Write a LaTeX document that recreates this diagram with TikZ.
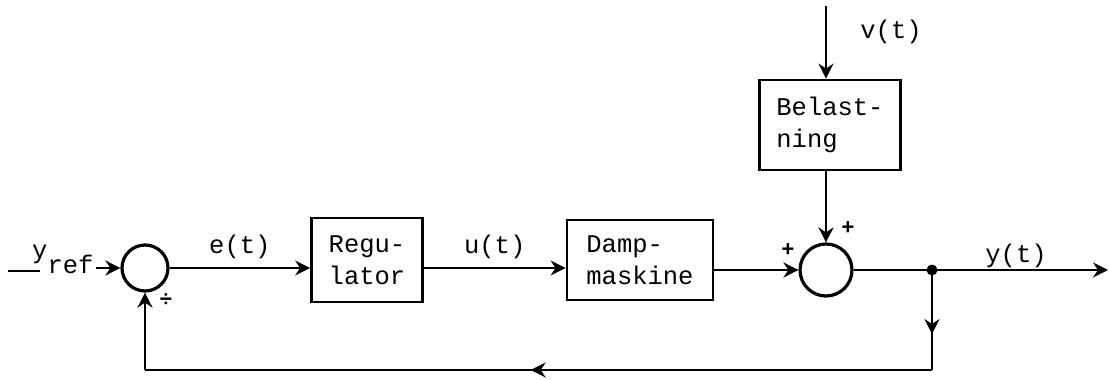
\documentclass[tikz,border=0pt]{standalone}
\usepackage{fontspec}
\setmainfont{Liberation Mono}
\usetikzlibrary{arrows.meta, decorations.markings}

\begin{document}
\begin{tikzpicture}[x=1pt, y=-1pt,
  every node/.style={font=\fontsize{25.5}{32}\selectfont},
  blok/.style={draw, line width=2.8pt, rectangle, align=left, inner sep=0pt},
  sumpunkt/.style={draw, line width=3.2pt, circle, inner sep=0pt, minimum size=#1},
  pil/.style={line width=2.8pt, -{Stealth[length=15pt, width=15pt, inset=5pt]}},
  linje/.style={line width=2.8pt},
  midtpil/.style={line width=2.8pt, decoration={markings,
      mark=at position #1 with {\arrow{Stealth[length=15pt, width=15pt, inset=5pt]}}},
      postaction={decorate}},
  fortegn/.style={font=\fontsize{22}{22}\selectfont\bfseries, inner sep=0pt}
]
  \useasboundingbox (0,0) rectangle (1109,380);

  % blokke
  \node (sum1) [sumpunkt=46pt] at (145,268) {};
  \node (reg) [blok, minimum width=111pt, minimum height=84pt] at (367,260) {Regu-\\lator};
  \node (damp) [blok, minimum width=146pt, minimum height=80pt] at (640,260) {Damp-\\maskine};
  \node (bel) [blok, minimum width=141pt, minimum height=90pt] at (830,125) {Belast-\\ning};
  \node (sum2) [sumpunkt=52pt] at (826,270) {};

  % ind- og udgange
  \coordinate (ind) at (8,271);
  \coordinate (vind) at (826,6);
  \coordinate (forgr) at (932,270);
  \coordinate (ud) at (1108,270);
  \coordinate (fbh) at (932,370);
  \coordinate (fbv) at (145,370);
  \node (yref) [anchor=base west, inner sep=0pt] at (32,273) {\raisebox{15pt}{y}ref};

  \draw [linje] (ind) -- (ind -| yref.base west) -- ++(8,0);
  \draw [pil] (yref.base east |- sum1) ++(2,0) -- (sum1.west);
  \draw [pil] (sum1.east) -- node[above=4pt] {e(t)} (sum1.east -| reg.west);
  \draw [pil] (reg.east |- sum1) -- node[above=4pt] {u(t)} (damp.west |- sum1);
  \draw [pil] (damp.east |- sum2) -- (sum2.west);
  \draw [pil] (vind) -- (vind |- bel.north);
  \draw [pil] (bel.south -| sum2) -- (sum2.north);
  \draw [pil] (sum2.east) -- (ud);
  \node (ylabel) at (1016,256) {y(t)};
  \node (vlabel) at (891,32) {v(t)};
  \fill (forgr) circle (5.5pt);

  % tilbagekobling
  \draw [midtpil=0.64] (forgr) -- (fbh);
  \draw [midtpil=0.51] (fbh) -- (fbv);
  \draw [pil] (fbv) -- (sum1.south);

  % fortegn
  \node (plus1) [fortegn] at (788,250) {+};
  \node (plus2) [fortegn] at (848,228) {+};
  \node (minus1) [fortegn] at (166,300) {÷};
\end{tikzpicture}
\end{document}
